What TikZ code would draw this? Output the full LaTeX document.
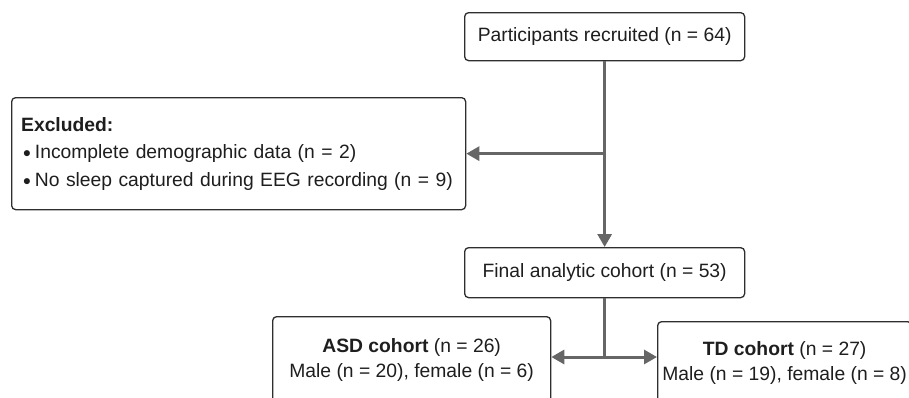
\documentclass[tikz,border=0pt]{standalone}
\usepackage{fontspec}
\setmainfont{Liberation Sans}
\usetikzlibrary{arrows.meta,positioning}
\definecolor{boxline}{HTML}{2E2E2E}
\definecolor{linkgray}{HTML}{666666}
\definecolor{txt}{HTML}{1E1E1E}
\tikzset{
  box/.style={draw=boxline, line width=1.3pt, rounded corners=4pt, fill=white,
    text=txt, font=\fontsize{19.3}{25}\selectfont, inner sep=0pt, anchor=north west},
  link/.style={draw=linkgray, line width=3pt},
  tip/.style={-{Triangle[length=13pt,width=14pt]}}
}
\newcommand{\bul}{\raisebox{1pt}{\scalebox{0.75}{$\bullet$}}\hspace{4pt}}
\begin{document}
\begin{tikzpicture}[x=1pt,y=-1pt]
\useasboundingbox (0,0) rectangle (909,397);
\clip (0,0) rectangle (909,397);
% boxes
\node[box, minimum width=280pt, minimum height=48pt, align=center] (rec) at (464,12)
  {Participants recruited (n = 64)};
\node[box, minimum width=454pt, minimum height=112pt, align=left, text width=445pt,
  font=\fontsize{19.3}{27.5}\selectfont] (exc) at (11,97)
  {\hspace*{5pt}\textbf{Excluded:}\\
   \hspace*{7pt}\bul Incomplete demographic data (n = 2)\\
   \hspace*{7pt}\bul No sleep captured during EEG recording (n = 9)};
\node[box, minimum width=280pt, minimum height=50pt, align=center] (fin) at (464,247)
  {Final analytic cohort (n = 53)};
\node[box, minimum width=278pt, minimum height=87pt, align=center] (asd) at (272,316)
  {\textbf{ASD cohort} (n = 26)\\Male (n = 20), female (n = 6)};
\node[box, minimum width=254pt, minimum height=83pt, align=center] (td) at (657,321)
  {\textbf{TD cohort} (n = 27)\\Male (n = 19), female (n = 8)};
% connectors
\coordinate (split) at (rec.south |- exc.east);
\coordinate (fork) at (fin.south |- 0,357);
\draw[link] (rec.south) -- (split);
\draw[link, tip] (split) -- (exc.east);
\draw[link, tip] (split) -- (fin.north);
\draw[link] (fin.south) -- (fork);
\draw[link, tip] (fork) -- (fork -| asd.east);
\draw[link, tip] (fork) -- (fork -| td.west);
\end{tikzpicture}
\end{document}
